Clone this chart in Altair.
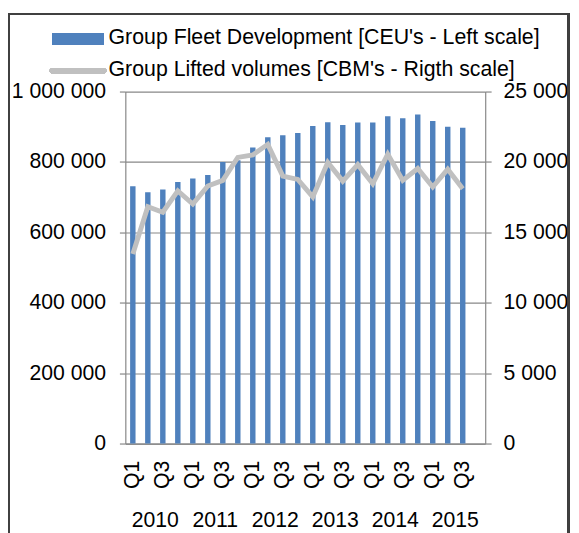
import altair as alt
import pandas as pd

years = [2010, 2011, 2012, 2013, 2014, 2015]
quarters = ["Q1", "Q2", "Q3", "Q4"]
keys = [f"{y} {q}" for y in years for q in quarters]

fleet = [731000, 714000, 722000, 743000, 753000, 763000, 800000, 805000,
         841000, 870000, 876000, 882000, 902000, 913000, 905000, 912000,
         912000, 930000, 924000, 935000, 916000, 900000, 897000, None]
lifted = [13470, 16820, 16430, 17940, 17010, 18290, 18690, 20320,
          20500, 21250, 18990, 18760, 17520, 19970, 18640, 19810,
          18450, 20550, 18690, 19530, 18220, 19480, 18100, None]

legend_labels = ["Group Fleet Development [CEU's - Left scale]",
                 "Group Lifted volumes [CBM's - Rigth scale]"]

df = pd.DataFrame({"key": keys, "fleet": fleet, "lifted": lifted})
ydf = pd.DataFrame({"year": [str(y) for y in years], "key": [f"{y} Q3" for y in years]})

FONT = "Liberation Sans"
GRID = "#878787"
BLUE = "#4f81bd"
GRAY = "#c0c0c0"
W, H = 365, 357
FS = 21.5
LFS = 21.6

xscale = alt.Scale(domain=keys, paddingInner=0, paddingOuter=0)
xaxis = alt.Axis(
    title=None, labelAngle=-90, ticks=False, labelPadding=17, labelOverlap=False,
    labelExpr="(indexof(datum.value, 'Q1') >= 0 || indexof(datum.value, 'Q3') >= 0) ? slice(datum.value, 5) : ''",
    labelFont=FONT, labelFontSize=FS, labelColor="black", domainColor=GRID, domainWidth=1.2,
)

base = alt.Chart(df)

bars = base.mark_bar(width=5.5, color=BLUE).encode(
    x=alt.X("key:N", scale=xscale, axis=xaxis, sort=None),
    y=alt.Y("fleet:Q", scale=alt.Scale(domain=[0, 1000000]),
            axis=alt.Axis(title=None, values=[0, 200000, 400000, 600000, 800000, 1000000],
                          labelExpr="replace(format(datum.value, ','), /,/g, ' ')",
                          grid=True, gridColor=GRID, gridWidth=1.2,
                          domainColor=GRID, domainWidth=1.2, tickColor=GRID, tickSize=6, tickWidth=1.2,
                          labelPadding=14, labelFont=FONT, labelFontSize=FS, labelColor="black")),
)

line = base.mark_line(color=GRAY, strokeWidth=5, strokeJoin="miter").encode(
    x=alt.X("key:N", scale=xscale, sort=None),
    y=alt.Y("lifted:Q", scale=alt.Scale(domain=[0, 25000]),
            axis=alt.Axis(title=None, orient="right", values=[0, 5000, 10000, 15000, 20000, 25000],
                          labelExpr="replace(format(datum.value, ','), /,/g, ' ')",
                          grid=False, domainColor=GRID, domainWidth=1.2, tickColor=GRID,
                          tickSize=6, tickWidth=1.2, labelPadding=12,
                          labelFont=FONT, labelFontSize=FS, labelColor="black")),
)

year_text = alt.Chart(ydf).mark_text(font=FONT, fontSize=FS, color="black", baseline="alphabetic").encode(
    x=alt.X("key:N", scale=xscale, sort=None, bandPosition=0),
    y=alt.value(H + 85),
    text="year:N",
)

# legend (drawn manually)
leg1_sym = alt.Chart(df).mark_rect(color=BLUE).encode(
    x=alt.value(-74), x2=alt.value(-22), y=alt.value(-59), y2=alt.value(-48))
leg2_sym = alt.Chart(df).mark_rule(color=GRAY, strokeWidth=5.5, strokeCap="round").encode(
    x=alt.value(-74), x2=alt.value(-22), y=alt.value(-21), y2=alt.value(-21))
leg_text1 = alt.Chart(pd.DataFrame({"t": [legend_labels[0]]})).mark_text(
    font=FONT, fontSize=LFS, color="black", align="left", baseline="middle").encode(
    x=alt.value(-17), y=alt.value(-54), text="t:N")
leg_text2 = alt.Chart(pd.DataFrame({"t": [legend_labels[1]]})).mark_text(
    font=FONT, fontSize=LFS, color="black", align="left", baseline="middle").encode(
    x=alt.value(-17), y=alt.value(-22), text="t:N")

border = alt.Chart(df).mark_rect(fill=None, stroke="#404040", strokeWidth=1.5).encode(
    x=alt.value(-118.5), x2=alt.value(449.5), y=alt.value(-79), y2=alt.value(480))

chart = alt.layer(bars, line, year_text, leg1_sym, leg2_sym, leg_text1, leg_text2, border).resolve_scale(
    y="independent"
).properties(
    width=W, height=H,
    autosize=alt.AutoSizeParams(type="none"),
    padding={"left": 119, "top": 81, "right": 87, "bottom": 87},
).configure_view(stroke=None)

chart.save("out.html", embed_options={"renderer": "svg", "actions": False})
